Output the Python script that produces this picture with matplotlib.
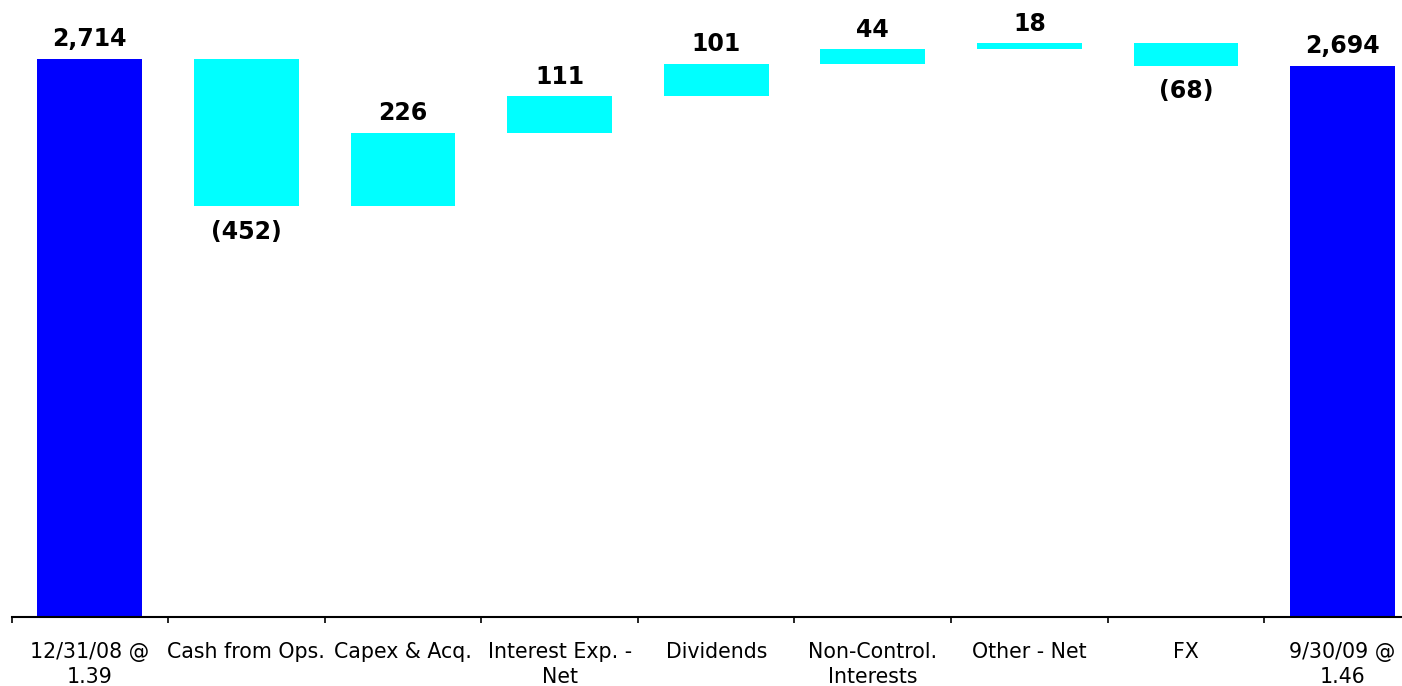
import matplotlib.pyplot as plt
import numpy as np

# data
categories = ["12/31/08 @\n1.39", "Cash from Ops.", "Capex & Acq.", "Interest Exp. -\nNet",
              "Dividends", "Non-Control.\nInterests", "Other - Net", "FX", "9/30/09 @\n1.46"]
start_value = 2714
changes = [-452, 226, 111, 101, 44, 18, -68]
end_value = 2694

# waterfall geometry
n = len(categories)
x = np.arange(n)
bottoms = [0]
heights = [start_value]
level = start_value
for c in changes:
    new_level = level + c
    bottoms.append(min(level, new_level))
    heights.append(abs(c))
    level = new_level
bottoms.append(0)
heights.append(end_value)
colors = ["#0000FF"] + ["#00FFFF"] * len(changes) + ["#0000FF"]

W, H = 1402, 686
fig = plt.figure(figsize=(W / 100, H / 100), dpi=100)
ax_left, ax_bottom = 11.5, 69
ax_w = 9 * 156.6
ax = fig.add_axes([ax_left / W, ax_bottom / H, ax_w / W, (H - ax_bottom) / H])

ymin = 1000
scale = (617 - 59) / (start_value - ymin)
ymax = ymin + (H - ax_bottom) / scale

ax.bar(x, heights, bottom=bottoms, width=0.67, color=colors, edgecolor="none", zorder=2)
ax.set_xlim(-0.5, n - 0.5)
ax.set_ylim(ymin, ymax)

# value labels
vals = [start_value] + changes + [end_value]
for i, v in enumerate(vals):
    top = bottoms[i] + heights[i]
    if v >= 0:
        ax.annotate(f"{v:,}", (x[i], top), xytext=(0, 5.5), textcoords="offset points",
                    ha="center", va="bottom", fontsize=17, fontweight="bold")
    else:
        ax.annotate(f"({-v:,})", (x[i], bottoms[i]), xytext=(0, -10), textcoords="offset points",
                    ha="center", va="top", fontsize=17, fontweight="bold")

for s in ["top", "left", "right"]:
    ax.spines[s].set_visible(False)
ax.spines["bottom"].set_linewidth(1.5)
ax.set_yticks([])
ax.set_xticks(x)
ax.set_xticklabels(categories, fontsize=14.8, linespacing=1.3)
ax.tick_params(axis="x", which="major", length=0, pad=18)
ax.set_xticks(np.arange(-0.5, n, 1), minor=True)
ax.tick_params(axis="x", which="minor", length=4, width=1.2, color="black")

fig.savefig("out.png", dpi=100)
